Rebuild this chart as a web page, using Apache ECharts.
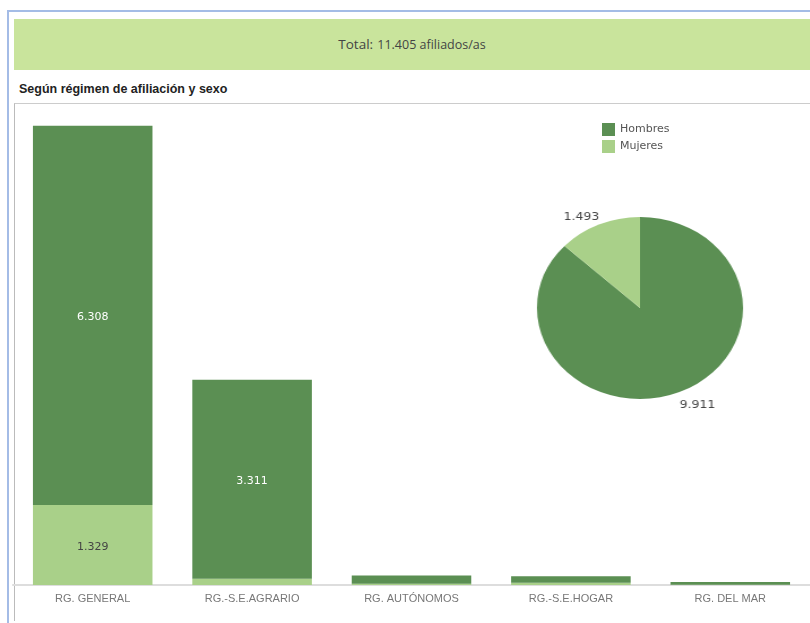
<!DOCTYPE html>
<html>
<head>
<meta charset="utf-8">
<script src="https://cdn.jsdelivr.net/npm/echarts@6/dist/echarts.min.js"></script>
<style>
  html, body { margin: 0; padding: 0; background: #fff; }
  #page { position: relative; width: 810px; height: 623px; overflow: hidden; }
  .frame-blue { position: absolute; left: 7px; top: 10px; right: 0; bottom: 0;
    border-left: 2px solid #a4bce6; border-top: 2px solid #a4bce6; }
  .band { position: absolute; left: 14px; top: 19px; width: 796px; height: 51px; background: #c9e49c;
    text-align: center; line-height: 49px; color: #444; font-family: "Open Sans", "Liberation Sans", sans-serif; }
  .band .big { font-size: 13.5px; }
  .band .small { font-size: 12.5px; }
  .subtitle { position: absolute; left: 19px; top: 82px; font: bold 12.5px "Liberation Sans", Arial, sans-serif; color: #222; }
  .frame-gray { position: absolute; left: 14px; top: 103px; right: 0; height: 517px;
    border-left: 1px solid #bbb; border-top: 1px solid #ccc; }
  #bars { position: absolute; left: 0; top: 0; width: 810px; height: 623px; }
  #pie { position: absolute; left: 520px; top: 188px; width: 240px; height: 240px; transform: scaleX(1.132); }
</style>
</head>
<body>
<div id="page">
  <div class="frame-blue"></div>
  <div class="band"><span class="big">Total:</span> <span class="small">11.405 afiliados/as</span></div>
  <div class="subtitle">Según régimen de afiliación y sexo</div>
  <div class="frame-gray"></div>
  <div id="bars"></div>
  <div id="pie"></div>
</div>
<script>
// afiliados por régimen y sexo
const categories = ['RG. GENERAL', 'RG.-S.E.AGRARIO', 'RG. AUTÓNOMOS', 'RG.-S.E.HOGAR', 'RG. DEL MAR']
const hombres = [6308, 3311, 140, 107, 45]
const mujeres = [1329, 102, 20, 38, 4]
const pieNames = ['Hombres', 'Mujeres']
const pieValues = [9911, 1493]

const DARK = '#5b8f53'
const LIGHT = '#a9d089'

function fmt(n) {
  return String(n).replace(/\B(?=(\d{3})+(?!\d))/g, '.')
}

// only the big segments carry a label, like the original
const bigLabel = (p) => (p.value > 1000 ? fmt(p.value) : '')

const bars = echarts.init(document.getElementById('bars'), null, { renderer: 'canvas' })
bars.setOption({
  backgroundColor: 'transparent',
  animation: false,
  legend: {
    data: ['Hombres', 'Mujeres'],
    orient: 'vertical',
    left: 602, top: 123, padding: 0,
    itemWidth: 13, itemHeight: 13, itemGap: 4,
    icon: 'rect',
    textStyle: { color: '#555', fontSize: 11, fontFamily: 'DejaVu Sans' },
  },
  grid: { left: 13, right: 0, top: 104, bottom: 38 },
  xAxis: {
    type: 'category',
    data: categories,
    axisTick: { show: false },
    axisLine: { lineStyle: { color: '#ddd', width: 2 } },
    axisLabel: { color: '#777', fontSize: 11, fontFamily: 'Liberation Sans', margin: 8 },
  },
  yAxis: { type: 'value', min: 0, max: 8000, show: false },
  series: [
    {
      name: 'Mujeres', type: 'bar', stack: 'sexo', data: mujeres, barWidth: '75%',
      itemStyle: { color: LIGHT },
      label: { show: true, position: 'inside', offset: [0, 2], formatter: bigLabel, color: '#444', fontSize: 11, fontFamily: 'DejaVu Sans' },
    },
    {
      name: 'Hombres', type: 'bar', stack: 'sexo', data: hombres, barWidth: '75%',
      itemStyle: { color: DARK },
      label: { show: true, position: 'inside', offset: [0, 2], formatter: bigLabel, color: '#fff', fontSize: 11, fontFamily: 'DejaVu Sans' },
    },
  ],
})

// nudges for the two pie labels (unscaled px), to sit where the original puts them
const pieLabelShift = [[-8, 10], [7, -4]]

const pie = echarts.init(document.getElementById('pie'), null, { renderer: 'canvas' })
pie.setOption({
  animation: false,
  series: [{
    type: 'pie',
    center: ['50%', '50%'],
    radius: 91,
    startAngle: 90,
    clockwise: true,
    data: pieNames.map((n, i) => ({ name: n, value: pieValues[i], itemStyle: { color: i === 0 ? DARK : LIGHT } })),
    label: {
      show: true, position: 'outside', formatter: (p) => fmt(p.value),
      color: '#444', fontSize: 11, fontFamily: 'DejaVu Sans',
    },
    labelLine: { show: false, length: 4, length2: 0 },
    labelLayout: (p) => ({ dx: pieLabelShift[p.dataIndex][0], dy: pieLabelShift[p.dataIndex][1] }),
    emphasis: { disabled: true },
  }],
})
</script>
</body>
</html>
